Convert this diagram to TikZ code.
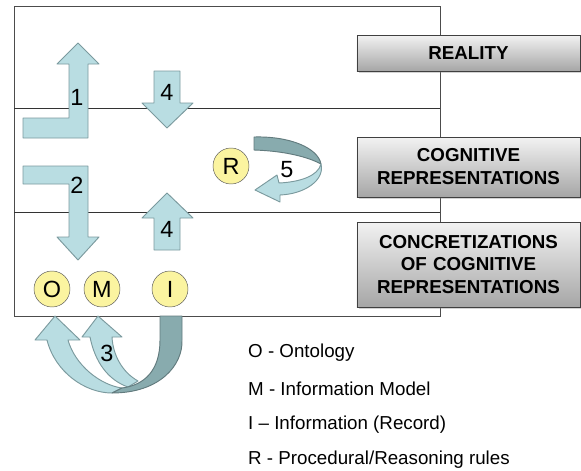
\documentclass[tikz,border=0pt]{standalone}
\usepackage{fontspec}
\setmainfont{Liberation Sans}
\usetikzlibrary{shadows}

\definecolor{arrowlight}{HTML}{B9DDE2}
\definecolor{arrowdark}{HTML}{88ABAE}
\definecolor{arrowline}{HTML}{7B9A9E}
\definecolor{discyellow}{HTML}{FBF4A0}

\begin{document}
\begin{tikzpicture}[x=0.03cm, y=-0.03cm]
	% Styles for the elements
	\tikzstyle{levelbox}	= [rectangle, draw=black!75, top color=black!5, bottom color=black!35, minimum width=6.69cm, text width=6.4cm, align=center, font=\fontsize{16}{19.6}\selectfont\bfseries, drop shadow={shadow xshift=1.5pt, shadow yshift=-1.5pt, opacity=0.35}]
	\tikzstyle{letterdisc}	= [circle, draw=black!65, fill=discyellow, minimum size=1.08cm, inner sep=0pt, font=\fontsize{20}{20}\selectfont]
	\tikzstyle{lightarrow}	= [draw=arrowline, fill=arrowlight, thick, line join=round]
	\tikzstyle{darkarrow}	= [draw=arrowline!80!black, fill=arrowdark, thick, line join=round]
	\tikzstyle{numlabel}	= [font=\fontsize{20}{20}\selectfont, inner sep=0pt]
	\tikzstyle{legend}		= [anchor=west, font=\fontsize{16}{19}\selectfont, inner sep=0pt]

	\useasboundingbox (0,0) rectangle (581,471);

	% Frame and the two level lines
	\draw[black!70, semithick] (14,6) rectangle (440,316);
	\draw[black!80] (14,108) -- (440,108);
	\draw[black!80] (14,212) -- (440,212);

	% Boxes on the right
	\node[levelbox, minimum height=1.08cm]	(box_reality)	at (468.5,53)											{REALITY};
	\node[levelbox, minimum height=1.8cm]	(box_cognitive)	[below of=box_reality,   node distance=3.42cm]	{COGNITIVE\\REPRESENTATIONS};
	\node[levelbox, minimum height=2.55cm]	(box_concrete)	[below of=box_cognitive, node distance=2.925cm]	{CONCRETIZATIONS\\OF COGNITIVE\\REPRESENTATIONS};

	% Block arrows 1, 2 and 4
	\draw[lightarrow] (23,118) -- (69,118) -- (69,64) -- (57,64) -- (78,43) -- (99,64) -- (88,64) -- (88,138) -- (23,138) -- cycle;
	\draw[lightarrow] (23,166) -- (88,166) -- (88,237) -- (99,237) -- (78,260) -- (57,237) -- (69,237) -- (69,184) -- (23,184) -- cycle;
	\draw[lightarrow] (154,71) -- (180,71) -- (180,103) -- (193,103) -- (167,128) -- (142,103) -- (154,103) -- cycle;
	\draw[lightarrow] (154,250) -- (154,218) -- (142,218) -- (167,193) -- (193,218) -- (180,218) -- (180,250) -- cycle;

	% Curved arrow 5
	\draw[darkarrow] (254,137) .. controls (290,136) and (318,148) .. (321,164) .. controls (308,157) and (285,151) .. (254,150) -- cycle;
	\draw[lightarrow] (321,164) .. controls (318,176) and (300,182) .. (279,183) -- (277,175) -- (255,190) -- (280,202) -- (280,195) .. controls (305,194) and (325,180) .. (321,164) -- cycle;

	% Curved arrows 3
	\draw[lightarrow] (47,340) .. controls (55,372) and (85,393) .. (112,393) -- (122,388) .. controls (100,385) and (75,365) .. (68,340) -- (80,340) -- (55,316) -- (35,340) -- cycle;
	\draw[lightarrow] (90,337) .. controls (95,362) and (108,380) .. (128,387) -- (138,381) .. controls (122,372) and (113,355) .. (112,337) -- (122,337) -- (98,316) -- (82,337) -- cycle;
	\draw[darkarrow] (160,316) -- (160,340) .. controls (160,370) and (145,385) .. (122,388) -- (112,393) .. controls (160,393) and (183,365) .. (182,340) -- (182,316) -- cycle;

	% Letters in circles
	\node[letterdisc]	(circle_O)	at (52,289)								{O};
	\node[letterdisc]	(circle_M)	[right of=circle_O, node distance=1.5cm]	{M};
	\node[letterdisc]	(circle_I)	[right of=circle_M, node distance=2.04cm]	{I};
	\node[letterdisc]	(circle_R)	at (231,166)							{R};

	% Numbers on the arrows
	\node[numlabel]	(num_1)		at (77,97)		{1};
	\node[numlabel]	(num_2)		at (77,185)		{2};
	\node[numlabel]	(num_3)		at (107,353)	{3};
	\node[numlabel]	(num_4top)	at (167,92)		{4};
	\node[numlabel]	(num_4bot)	at (167,229)	{4};
	\node[numlabel]	(num_5)		at (287,170)	{5};

	% Legend
	\node[legend]	(leg_O)	at (248,353)	{O - Ontology};
	\node[legend]	(leg_M)	at (248,389)	{M - Information Model};
	\node[legend]	(leg_I)	at (248,425)	{I -- Information (Record)};
	\node[legend]	(leg_R)	at (248,460)	{R - Procedural/Reasoning rules};
\end{tikzpicture}
\end{document}
